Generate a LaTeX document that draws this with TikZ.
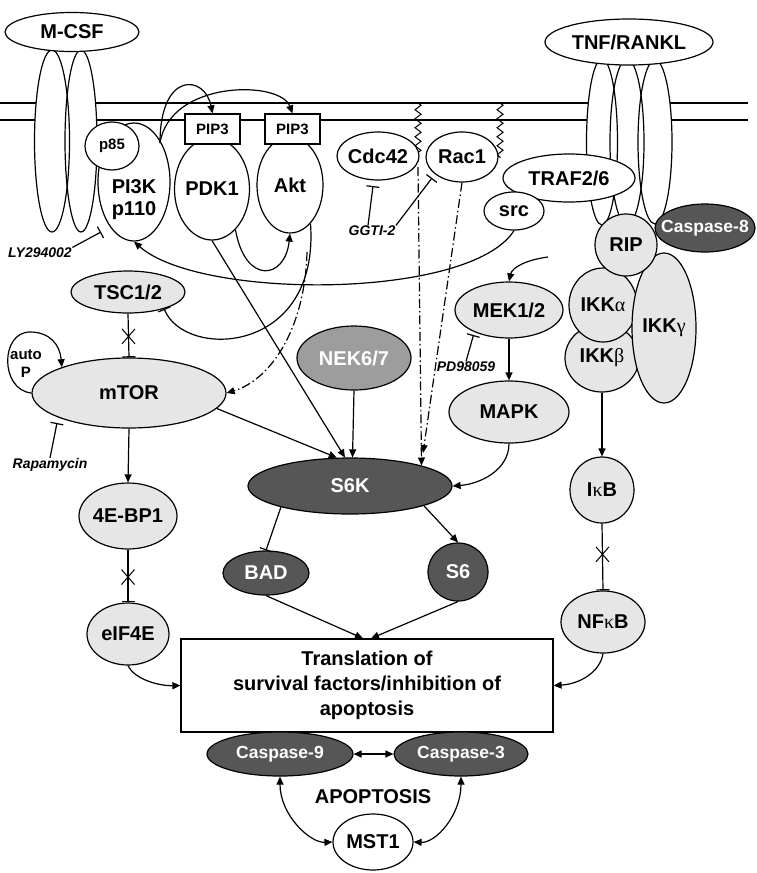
\documentclass[tikz,border=0pt]{standalone}
\usepackage{fontspec}
\setmainfont{Liberation Sans}
\newfontfamily\grkfont{Liberation Serif}
\usetikzlibrary{shapes.geometric,shapes.misc,arrows.meta,decorations.pathmorphing}
\definecolor{lg}{HTML}{E6E6E6}
\definecolor{dg}{HTML}{565656}
\definecolor{mg}{HTML}{9D9D9D}
\newcommand\grk[1]{{\mdseries\grkfont #1}}
\newcommand\zw[1]{\makebox[0pt]{#1}}
\begin{document}
\begin{tikzpicture}[x=1pt,y=-1pt,line width=1.2pt,
  font=\bfseries\fontsize{20}{24}\selectfont,
  ell/.style={ellipse,draw,inner sep=0pt,fill=white},
  lt/.style={ell,fill=lg},
  dk/.style={ell,fill=dg,text=white},
  pipbox/.style={draw,fill=white,inner sep=0pt,minimum width=55pt,minimum height=30pt,font=\bfseries\fontsize{15}{18}\selectfont},
  arr/.style={-{Triangle[length=8pt,width=7pt]}},
  dbl/.style={{Triangle[length=8pt,width=7pt]}-{Triangle[length=8pt,width=7pt]}},
  inh/.style={-{Bar[width=13pt]}},
  dd/.style={dash pattern=on 9pt off 3pt on 1.5pt off 3pt},
  smallf/.style={font=\bfseries\fontsize{15}{18}\selectfont},
  casf/.style={font=\bfseries\fontsize{17.5}{20}\selectfont},
  drug/.style={font=\bfseries\itshape\fontsize{14}{16}\selectfont,inner sep=0pt},
  xm/.style={cross out,draw,inner sep=0pt,minimum width=12pt,minimum height=14pt,line width=1pt},
  zz/.style={decorate,decoration={zigzag,segment length=9pt,amplitude=3pt},line width=1pt}]
\useasboundingbox (0,0) rectangle (756,873);

% membrane
\draw (0,103) -- (748,103);
\draw (0,120) -- (748,120);
\draw[zz] (418,103) -- (418,160);
\draw[zz] (500,103) -- (500,158);

% receptors
\fill[white] (52,141) ellipse [x radius=17.5,y radius=91];
\fill[white] (81,141) ellipse [x radius=16,y radius=91];
\draw (52,141) ellipse [x radius=17.5,y radius=91];
\draw (81,141) ellipse [x radius=16,y radius=91];
\fill[white] (602,142) ellipse [x radius=15.5,y radius=83];
\fill[white] (627,142) ellipse [x radius=17,y radius=83];
\fill[white] (655,142) ellipse [x radius=17,y radius=82];
\draw (602,142) ellipse [x radius=15.5,y radius=83];
\draw (627,142) ellipse [x radius=17,y radius=83];
\draw (655,142) ellipse [x radius=17,y radius=82];

\node[ell,minimum width=134pt,minimum height=39pt] (mcsf) at (72,32) {\zw{M-CSF}};
\node[ell,minimum width=168pt,minimum height=46pt] (tnf) at (629,42) {\zw{TNF/RANKL}};

% PI3K complex
\node[ell,minimum width=72pt,minimum height=118pt] (pi3k) at (134,182) {};
\node[align=center,font=\bfseries\fontsize{20}{22}\selectfont] (pi3kl) at (134,200) {PI3K\\p110};
\node[ell,minimum width=54pt,minimum height=48pt,smallf] (p85) at (112,146) {\zw{p85}};
\node[ell,minimum width=75pt,minimum height=102pt] (pdk1) at (212,189) {\zw{PDK1}};
\node[pipbox] (pip3a) at (212.5,129) {PIP3};
\node[ell,minimum width=66pt,minimum height=96pt] (akt) at (290,185) {\zw{Akt}};
\node[pipbox] (pip3b) at (292.5,129) {PIP3};

\node[ell,minimum width=82pt,minimum height=48pt] (cdc) at (378,156) {\zw{Cdc42}};
\node[ell,minimum width=72pt,minimum height=50pt] (rac) at (462,157) {\zw{Rac1}};

% TNF side
\node[ell,minimum width=132pt,minimum height=48pt] (traf) at (569,178) {\zw{TRAF2/6}};
\node[ell,minimum width=60pt,minimum height=38pt] (src) at (514,211) {\zw{src}};
\node[dk,minimum width=100pt,minimum height=48pt,casf] (c8) at (705,228) {\zw{Caspase-8}};
\node[lt,minimum width=74pt,minimum height=68pt] (ikkb) at (602,358) {\zw{IKK\grk{β}}};
\node[lt,minimum width=68pt,minimum height=74pt] (ikka) at (603,305) {\zw{IKK\grk{α}}};
\node[lt,minimum width=64pt,minimum height=150pt] (ikkg) at (664,328) {\zw{IKK\grk{γ}}};
\node[lt,minimum width=62pt,minimum height=62pt] (rip) at (626,245) {\zw{RIP}};
\node[lt,minimum width=64pt,minimum height=66pt] (ikb) at (602,490) {\zw{I\grk{κ}B}};
\node[lt,minimum width=84pt,minimum height=62pt] (nfkb) at (603,622) {\zw{NF\grk{κ}B}};

% middle
\node[lt,minimum width=108pt,minimum height=56pt] (mek) at (509,310) {\zw{MEK1/2}};
\node[lt,minimum width=120pt,minimum height=62pt] (mapk) at (509,412) {\zw{MAPK}};
\node[ell,fill=mg,text=white,minimum width=114pt,minimum height=64pt] (nek) at (354,358) {\zw{NEK6/7}};
\node[dk,minimum width=204pt,minimum height=56pt] (s6k) at (350,486) {\zw{S6K}};
\node[dk,minimum width=86pt,minimum height=44pt] (bad) at (266,573) {\zw{BAD}};
\node[dk,minimum width=60pt,minimum height=58pt] (s6) at (458,572) {\zw{S6}};

% left column
\node[lt,minimum width=114pt,minimum height=42pt] (tsc) at (128,292) {\zw{TSC1/2}};
\node[lt,minimum width=194pt,minimum height=70pt] (mtor) at (129,393) {\zw{mTOR}};
\node[lt,minimum width=98pt,minimum height=66pt] (ebp) at (128,516) {\zw{4E-BP1}};
\node[lt,minimum width=82pt,minimum height=62pt] (eif) at (128,634) {\zw{eIF4E}};
\node[align=center,font=\bfseries\fontsize{15}{18}\selectfont] (autop) at (26,364) {auto\\P};

% bottom
\node[draw,fill=white,minimum width=372pt,minimum height=93pt,inner sep=0pt,align=center,
  font=\bfseries\fontsize{20}{25}\selectfont] (box) at (367,685.5)
  {Translation of\\survival factors/inhibition of\\apoptosis};
\node[dk,minimum width=146pt,minimum height=44pt,casf] (c9) at (280,754) {\zw{Caspase-9}};
\node[dk,minimum width=134pt,minimum height=44pt,casf] (c3) at (461,754) {\zw{Caspase-3}};
\node (apo) at (373,797) {APOPTOSIS};
\node[ell,minimum width=80pt,minimum height=56pt] (mst) at (373,842) {\zw{MST1}};

% drug labels
\node[drug] (ly) at (40,253) {LY294002};
\node[drug] (rapa) at (50,465) {Rapamycin};
\node[drug] (ggti) at (372,231) {GGTI-2};
\node[drug] (pd) at (466,367) {PD98059};

% coordinates for free ends
\coordinate (pi3ko) at (160,143);
\coordinate (lyend) at (101,232);
\coordinate (rapaend) at (57,423);
\coordinate (cdcend) at (373,186);
\coordinate (racend) at (432,178);
\coordinate (pdend) at (473.5,335);
\coordinate (aktdd) at (307,252);
\coordinate (cdcdd) at (418,167);
\coordinate (racdd) at (423,453);
\coordinate (mekin) at (548,257);

% connectors
\draw[arr] (pi3ko) .. controls (160,70) and (205,75) .. (pip3a.north);
\draw[arr] (pi3ko) .. controls (170,80) and (280,80) .. (pip3b.north);
\draw[arr] (pdk1.-60) .. controls (245,285) and (285,280) .. (akt.south);
\draw[inh] (akt.-62) .. controls (320,355) and (185,360) .. (tsc.-25);
\draw[arr,dd] (aktdd) .. controls (305,330) and (270,380) .. (mtor.east);
\draw[arr] (src.south) .. controls (470,300) and (200,300) .. (pi3k.south);
\draw[inh] (ly.north east) -- (lyend);
\draw[inh] (rapa.north) -- (rapaend);
\draw[inh] ([xshift=-4pt]ggti.north) -- (cdcend);
\draw[inh] (ggti.north east) -- (racend);
\draw[inh] (pd.north) -- (pdend);

\draw[inh] (tsc.south) -- node[xm,pos=0.52]{} (mtor.north);
\draw[arr] (mtor.west) .. controls (0,390) and (0,332) .. (30,332) .. controls (50,332) and (60,345) .. (mtor.159);
\draw[arr] (mtor.south) -- (ebp.north);
\draw[inh] (ebp.south) -- node[xm,pos=0.52]{} (eif.north);
\draw[arr] (eif.south) .. controls (135,680) and (160,686) .. (box.west);

\draw[arr] (mtor.-10) -- (s6k.115);
\draw[arr] (pdk1.south) -- (s6k.100);
\draw[arr] (nek.south) -- (s6k.85);
\draw[arr,dd] (cdcdd) -- (s6k.16);
\draw[arr,dd] (rac.south) -- (racdd);
\draw[arr] (mekin) .. controls (525,260) and (512,268) .. (mek.north);
\draw[arr] (mek.south) -- (mapk.north);
\draw[arr] (mapk.south) .. controls (509,470) and (480,484) .. (s6k.east);

\draw[inh] (s6k.-163) -- (bad.north);
\draw[arr] (s6k.-15) -- (s6.north);
\draw[arr] (bad.south) -- ([xshift=-4pt]box.north);
\draw[arr] (s6.south) -- ([xshift=4pt]box.north);

\draw[arr] (ikkb.south) -- (ikb.north);
\draw[inh] (ikb.south) -- node[xm,pos=0.46]{} (nfkb.north);
\draw[arr] (nfkb.south) .. controls (600,672) and (580,684) .. (box.east);

\draw[dbl] (c9) -- (c3);
\draw[dbl] (c9.south) .. controls (280,815) and (310,843) .. (mst.west);
\draw[dbl] (c3.south) .. controls (461,815) and (436,843) .. (mst.east);
\end{tikzpicture}
\end{document}
